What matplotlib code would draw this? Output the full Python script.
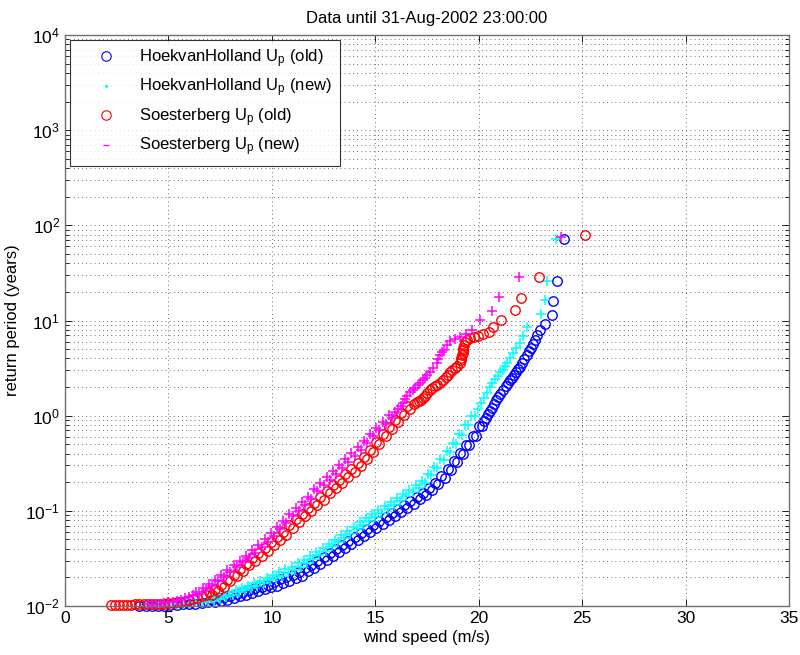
import matplotlib
matplotlib.use("Agg")
import matplotlib.pyplot as plt
from matplotlib.lines import Line2D
from matplotlib.ticker import NullFormatter, FixedLocator, LogFormatterSciNotation

plt.rcParams['font.family'] = ['Liberation Sans', 'DejaVu Sans']
plt.rcParams['mathtext.fontset'] = 'custom'
plt.rcParams['mathtext.rm'] = 'Liberation Sans'
plt.rcParams['mathtext.it'] = 'Liberation Sans'

# ---------------- data ----------------
title = "Data until 31-Aug-2002 23:00:00"
xlabel = "wind speed (m/s)"
ylabel = "return period (years)"
labels = [r"HoekvanHolland U$_\mathrm{p}$ (old)", r"HoekvanHolland U$_\mathrm{p}$ (new)",
          r"Soesterberg U$_\mathrm{p}$ (old)", r"Soesterberg U$_\mathrm{p}$ (new)"]
xticks = [0, 5, 10, 15, 20, 25, 30, 35]
yticks = [1e-2, 1e-1, 1e0, 1e1, 1e2, 1e3, 1e4]

# HoekvanHolland U_p (old)  -- blue circles
hoek_old_x = [3.6, 3.9, 4.2, 4.5, 4.8, 5.1, 5.4, 5.7, 6.0, 6.3, 6.6, 6.9,
              7.10, 7.25, 7.40, 7.55, 7.70, 7.85, 8.00, 8.15, 8.30, 8.45, 8.60, 8.75, 8.90, 9.05,
              9.20, 9.35, 9.50, 9.65, 9.80, 9.95, 10.10, 10.25, 10.40, 10.55, 10.70, 10.85, 11.00,
              11.15, 11.30, 11.45, 11.60, 11.75, 11.90, 12.05, 12.20, 12.35, 12.50, 12.65, 12.80,
              12.95, 13.10, 13.25, 13.40, 13.55, 13.70, 13.85, 14.00, 14.15, 14.30, 14.45, 14.60,
              14.75, 14.90, 15.05, 15.20, 15.35, 15.50, 15.65, 15.80, 15.95, 16.10, 16.25, 16.40,
              16.55, 16.70, 16.85, 17.00, 17.15, 17.30, 17.45, 17.60, 17.75, 17.90, 18.05, 18.20,
              18.35, 18.50, 18.65, 18.80, 18.95, 19.10, 19.25, 19.40, 19.55, 19.70, 19.85, 20.00,
              20.15, 20.25, 20.35, 20.45, 20.55, 20.64, 20.75, 20.85, 20.95, 21.05, 21.17, 21.30,
              21.40, 21.50, 21.60, 21.70, 21.80, 21.90, 21.99, 22.10, 22.20, 22.33, 22.45, 22.55,
              22.62, 22.72, 22.81, 22.96, 23.20, 23.54, 23.59, 23.78, 24.12]
hoek_old_y = [0.0100, 0.0100, 0.0100, 0.0101, 0.0101, 0.0102, 0.0103, 0.0104, 0.0105, 0.0106,
              0.0108, 0.0110,
              0.0116, 0.0110, 0.0120, 0.0112, 0.0123, 0.0115, 0.0128, 0.0120, 0.0133, 0.0126,
              0.0139, 0.0132, 0.0146, 0.0138, 0.0153, 0.0144, 0.0159, 0.0151, 0.0168, 0.0160,
              0.0180, 0.0164, 0.0190, 0.0174, 0.0201, 0.0185, 0.0214, 0.0196, 0.0227, 0.0209,
              0.0248, 0.0232, 0.0272, 0.0253, 0.0297, 0.0275, 0.0324, 0.0303, 0.0357, 0.0334,
              0.0393, 0.0368, 0.0435, 0.0407, 0.0480, 0.0449, 0.0530, 0.0495, 0.0583, 0.0544,
              0.0641, 0.0599, 0.0706, 0.0660, 0.0779, 0.0728, 0.0860, 0.0804, 0.0949, 0.0887,
              0.1046, 0.0978, 0.1155, 0.1080, 0.1272, 0.1191, 0.1410, 0.1318, 0.1558, 0.1458,
              0.1728, 0.1642, 0.1982, 0.1896, 0.2300, 0.2217, 0.2735, 0.2679, 0.3307, 0.3236,
              0.4017, 0.3962, 0.4929, 0.4877, 0.6095, 0.6085, 0.7738, 0.7830,
              0.88, 0.95, 1.03, 1.12, 1.20, 1.32, 1.45, 1.58, 1.70, 1.86, 2.05, 2.20, 2.35, 2.49,
              2.68, 2.88, 3.07, 3.27, 3.58, 3.90, 4.34, 4.80, 5.20, 5.66, 6.30, 7.04, 7.95, 9.19,
              11.4, 16.0, 26.0, 71.3]

# HoekvanHolland U_p (new)  -- cyan plus
hoek_new_x = [3.9, 4.2, 4.5, 4.8, 5.1, 5.4, 5.7, 6.0, 6.3, 6.6, 6.9,
              7.05, 7.20, 7.35, 7.50, 7.65, 7.80, 7.95, 8.10, 8.25, 8.40, 8.55, 8.70, 8.85, 9.00,
              9.15, 9.30, 9.45, 9.60, 9.75, 9.90, 10.05, 10.20, 10.35, 10.50, 10.65, 10.80, 10.95,
              11.10, 11.25, 11.40, 11.55, 11.70, 11.85, 12.00, 12.15, 12.30, 12.45, 12.60, 12.75,
              12.90, 13.05, 13.20, 13.35, 13.50, 13.65, 13.80, 13.95, 14.10, 14.25, 14.40, 14.55,
              14.70, 14.85, 15.00, 15.15, 15.30, 15.45, 15.60, 15.75, 15.90, 16.05, 16.20, 16.35,
              16.50, 16.65, 16.80, 16.95, 17.10, 17.25, 17.40, 17.55, 17.70, 17.85, 18.00, 18.15,
              18.30, 18.45, 18.60, 18.75, 18.90, 19.05, 19.20, 19.35, 19.50, 19.65, 19.80,
              19.95, 20.10, 20.25, 20.40, 20.54, 20.65, 20.80, 20.93, 21.05, 21.15, 21.25, 21.36,
              21.50, 21.65, 21.80, 21.99, 22.15, 22.33, 23.01, 23.20, 23.30, 23.73]
hoek_new_y = [0.0101, 0.0101, 0.0102, 0.0103, 0.0104, 0.0105, 0.0106, 0.0107, 0.0109, 0.0111,
              0.0114,
              0.0122, 0.0114, 0.0127, 0.0119, 0.0132, 0.0125, 0.0139, 0.0132, 0.0147, 0.0139,
              0.0154, 0.0146, 0.0162, 0.0155, 0.0173, 0.0164, 0.0183, 0.0175, 0.0196, 0.0187,
              0.0212, 0.0195, 0.0226, 0.0208, 0.0242, 0.0223, 0.0260, 0.0240, 0.0280, 0.0259,
              0.0304, 0.0283, 0.0333, 0.0311, 0.0368, 0.0344, 0.0406, 0.0380, 0.0449, 0.0422,
              0.0499, 0.0468, 0.0551, 0.0519, 0.0615, 0.0575, 0.0682, 0.0639, 0.0756, 0.0708,
              0.0835, 0.0781, 0.0922, 0.0860, 0.1018, 0.0953, 0.1124, 0.1052, 0.1240, 0.1158,
              0.1367, 0.1278, 0.1511, 0.1415, 0.1675, 0.1566, 0.1850, 0.1736, 0.2056, 0.1943,
              0.2427, 0.2358, 0.2894, 0.2830, 0.3487, 0.3396, 0.4219, 0.4151, 0.5173, 0.5094,
              0.6381, 0.6321, 0.795, 0.792, 1.00, 1.00,
              1.18, 1.35, 1.52, 1.72, 2.00, 2.18, 2.40, 2.61, 2.85, 3.05, 3.30, 3.57, 4.05, 4.55,
              5.10, 5.79, 6.90, 8.55, 11.7, 16.4, 26.0, 71.8]

# Soesterberg U_p (old)  -- red circles
soest_old_x = [2.2, 2.4, 2.6, 2.8, 3.0, 3.2, 3.4, 3.6, 3.8, 4.0, 4.2, 4.4, 4.6, 4.8, 5.0, 5.2,
               5.4, 5.6, 5.8, 6.0, 6.2, 6.4, 6.6, 6.8,
               6.95, 7.10, 7.25, 7.40, 7.55, 7.70, 7.85, 8.00, 8.15, 8.30, 8.45, 8.60, 8.75, 8.90,
               9.05, 9.20, 9.35, 9.50, 9.65, 9.80, 9.95, 10.10, 10.25, 10.40, 10.55, 10.70, 10.85,
               11.00, 11.15, 11.30, 11.45, 11.60, 11.75, 11.90, 12.05, 12.20, 12.35, 12.50, 12.65,
               12.80, 12.95, 13.10, 13.25, 13.40, 13.55, 13.70, 13.85, 14.00, 14.15, 14.30, 14.45,
               14.60, 14.75, 14.90, 15.05, 15.20, 15.35, 15.50, 15.65, 15.80, 15.95, 16.10, 16.25,
               16.40, 16.55, 16.70,
               16.85, 17.00, 17.10, 17.20, 17.30, 17.40, 17.50, 17.64, 17.75, 17.90, 18.00, 18.12,
               18.25, 18.40, 18.50, 18.60, 18.70, 18.85, 18.95, 19.09, 19.15, 19.15, 19.19, 19.22,
               19.22, 19.24, 19.28, 19.33, 19.45, 19.57, 19.75, 19.96, 20.20, 20.49, 20.69, 21.07,
               21.75, 22.04, 22.91, 25.13]
soest_old_y = [0.0103, 0.0103, 0.0103, 0.0103, 0.0103, 0.0103, 0.0104, 0.0104, 0.0104, 0.0104,
               0.0104, 0.0105, 0.0105, 0.0106, 0.0107, 0.0108, 0.0110, 0.0111, 0.0113, 0.0116,
               0.0119, 0.0122, 0.0126, 0.0130,
               0.0140, 0.0131, 0.0151, 0.0143, 0.0165, 0.0158, 0.0187, 0.0183, 0.0214, 0.0207,
               0.0243, 0.0234, 0.0275, 0.0267, 0.0320, 0.0297, 0.0362, 0.0336, 0.0409, 0.0379,
               0.0471, 0.0435, 0.0532, 0.0495, 0.0605, 0.0564, 0.0706, 0.0664, 0.0813, 0.0762,
               0.0931, 0.0874, 0.1070, 0.1000, 0.1220, 0.1140, 0.1402, 0.1308, 0.1616, 0.1523,
               0.1862, 0.1738, 0.2119, 0.1981, 0.2429, 0.2262, 0.2761, 0.2579, 0.3157, 0.2944,
               0.3659, 0.3477, 0.4334, 0.4159, 0.5243, 0.5047, 0.642, 0.617, 0.765, 0.720, 0.899,
               0.860, 1.07, 1.01, 1.25, 1.18,
               1.32, 1.38, 1.43, 1.47, 1.55, 1.62, 1.72, 1.86, 1.95, 2.05, 2.12, 2.20, 2.38, 2.55,
               2.70, 2.88, 3.00, 3.17, 3.35, 3.57, 3.80, 4.05, 4.34, 4.60, 4.85, 5.14, 5.50, 5.94,
               6.25, 6.50, 6.70, 6.87, 7.20, 7.57, 8.55, 10.1, 12.9, 17.2, 28.6, 79.1]

# Soesterberg U_p (new)  -- magenta plus
soest_new_x = [4.0, 4.2, 4.4, 4.6, 4.8, 5.0, 5.2, 5.4, 5.6, 5.8, 6.0, 6.2,
               6.35, 6.50, 6.65, 6.80, 6.95, 7.10, 7.25, 7.40, 7.55, 7.70, 7.85, 8.00, 8.15, 8.30,
               8.45, 8.60, 8.75, 8.90, 9.05, 9.20, 9.35, 9.50, 9.65, 9.80, 9.95, 10.10, 10.25,
               10.40, 10.55, 10.70, 10.85, 11.00, 11.15, 11.30, 11.45, 11.60, 11.75, 11.90, 12.05,
               12.20, 12.35, 12.50, 12.65, 12.80, 12.95, 13.10, 13.25, 13.40, 13.55, 13.70, 13.85,
               14.00, 14.15, 14.30, 14.45, 14.60, 14.75, 14.90, 15.05, 15.20, 15.35, 15.50, 15.65,
               15.80,
               15.95, 16.10, 16.25, 16.34, 16.45, 16.55, 16.67, 16.80, 16.90, 17.05, 17.16, 17.30,
               17.40, 17.52, 17.64, 17.80, 17.98, 18.05, 18.12, 18.22, 18.30, 18.46, 18.60, 18.85,
               19.09, 19.40, 19.67, 20.06, 20.64, 20.98, 21.94, 23.97]
soest_new_y = [0.0104, 0.0104, 0.0105, 0.0106, 0.0107, 0.0109, 0.0111, 0.0114, 0.0117, 0.0121,
               0.0125, 0.0130,
               0.0141, 0.0133, 0.0154, 0.0147, 0.0170, 0.0162, 0.0188, 0.0181, 0.0211, 0.0203,
               0.0237, 0.0229, 0.0267, 0.0256, 0.0299, 0.0288, 0.0336, 0.0323, 0.0385, 0.0360,
               0.0441, 0.0412, 0.0505, 0.0472, 0.0578, 0.0547, 0.0676, 0.0638, 0.0790, 0.0745,
               0.0922, 0.0879, 0.1070, 0.1000, 0.1231, 0.1150, 0.1412, 0.1327, 0.1707, 0.1598,
               0.1969, 0.1850, 0.2268, 0.2131, 0.2622, 0.2458, 0.3017, 0.2832, 0.3488, 0.3271,
               0.4023, 0.3776, 0.4655, 0.4393, 0.5457, 0.5187, 0.642, 0.6075, 0.749, 0.701, 0.861,
               0.813, 1.006, 0.953,
               1.10, 1.18, 1.27, 1.36, 1.48, 1.62, 1.77, 1.87, 1.95, 2.08, 2.20, 2.35, 2.50, 2.68,
               2.88, 3.20, 3.57, 3.95, 4.34, 4.62, 4.90, 5.53, 6.09, 6.40, 6.71, 7.30, 7.95, 10.1,
               12.6, 17.7, 28.4, 75.4]

# ---------------- figure ----------------
fig = plt.figure(figsize=(8.0, 6.55), dpi=100)
ax = fig.add_axes([65 / 800, 1 - 606 / 655, (789 - 65) / 800, (606 - 35) / 655])

ms = 6.8
ax.plot(hoek_old_x, hoek_old_y, 'o', mfc='none', mec='#0000ff', ms=ms, mew=1.0, ls='none',
        clip_on=False)
ax.plot(hoek_new_x, hoek_new_y, '+', color='#00ffff', ms=ms + 0.5, mew=1.1, ls='none',
        clip_on=False)
ax.plot(soest_old_x, soest_old_y, 'o', mfc='none', mec='#ff0000', ms=ms, mew=1.0, ls='none',
        clip_on=False)
ax.plot(soest_new_x, soest_new_y, '+', color='#ff00ff', ms=ms + 0.5, mew=1.1, ls='none',
        clip_on=False)

ax.set_yscale('log')
ax.set_xlim(0, 35)
ax.set_ylim(1e-2, 1e4)
ax.xaxis.set_major_locator(FixedLocator(xticks))
ax.yaxis.set_major_locator(FixedLocator(yticks))
ax.yaxis.set_major_formatter(LogFormatterSciNotation())
minors = [m * 10.0 ** e for e in range(-2, 4) for m in range(2, 10)]
ax.yaxis.set_minor_locator(FixedLocator(minors))
ax.yaxis.set_minor_formatter(NullFormatter())

ax.grid(True, which='major', axis='both', ls=(0, (1, 4)), color='#404040', lw=0.6)
ax.grid(True, which='minor', axis='y', ls=(0, (1, 4)), color='#404040', lw=0.6)

ax.tick_params(which='both', direction='in', top=True, right=True, labelsize=12.5)
ax.tick_params(which='major', length=5, width=0.6)
ax.tick_params(which='minor', length=3, width=0.6)
for s in ax.spines.values():
    s.set_color('#707070')
    s.set_linewidth(1.0)

ax.set_title(title, fontsize=12, pad=9)
ax.set_xlabel(xlabel, fontsize=12, labelpad=3)
ax.set_ylabel(ylabel, fontsize=12, labelpad=4)

handles = [Line2D([], [], marker='o', mfc='none', mec='#0000ff', ms=ms, mew=0.8, ls='none'),
           Line2D([], [], marker='.', color='#00ffff', ms=2.5, ls='none'),
           Line2D([], [], marker='o', mfc='none', mec='#ff0000', ms=ms, mew=0.8, ls='none'),
           Line2D([], [], marker='_', color='#ff00ff', ms=5, mew=1.0, ls='none')]
leg = ax.legend(handles, labels, loc='upper left', bbox_to_anchor=(0.007, 0.992),
                fontsize=12, frameon=True, fancybox=False, edgecolor='black',
                borderpad=0.45, labelspacing=0.42, handletextpad=0.3, handlelength=3.4,
                borderaxespad=0)
leg.get_frame().set_linewidth(0.8)

fig.savefig('out.png', dpi=100)
